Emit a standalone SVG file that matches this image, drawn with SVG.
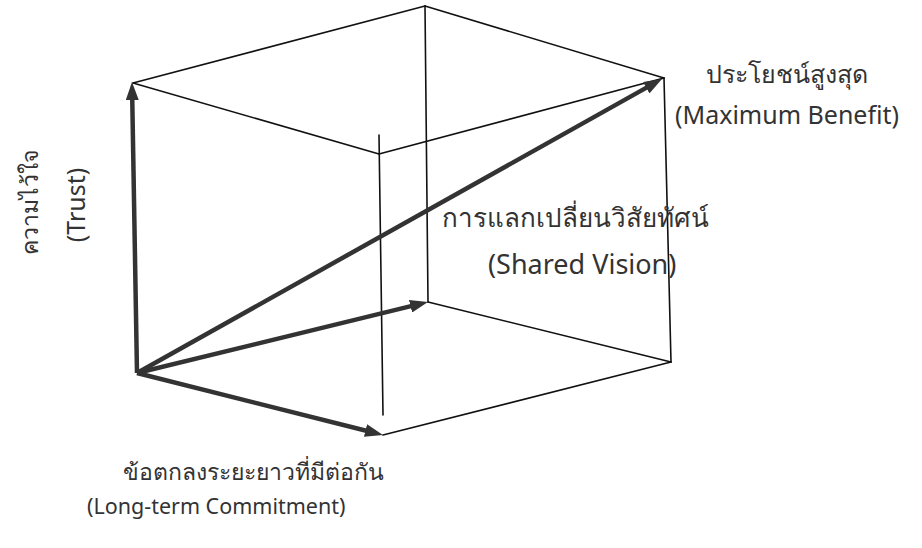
<svg xmlns="http://www.w3.org/2000/svg" width="922" height="548" viewBox="0 0 922 548">
<style>
.edge{stroke:#111;stroke-width:1.6;fill:none;stroke-linecap:round}
.arr{stroke:#333;stroke-width:4.5;fill:none}
.lbl{font-family:"Noto Sans",sans-serif;font-size:23px;fill:#333}
</style>
<defs>
<marker id="ah" markerUnits="userSpaceOnUse" markerWidth="18" markerHeight="13" refX="10" refY="6.5" orient="auto" viewBox="0 0 18 13">
<path d="M0,0 L18,6.5 L0,13 z" fill="#333"/>
</marker>
</defs>
<rect width="922" height="548" fill="#fff"/>
<g id="cube">
<line class="edge" x1="133" y1="83" x2="425" y2="6"/>
<line class="edge" x1="133" y1="83" x2="379" y2="154"/>
<line class="edge" x1="379" y1="154" x2="664" y2="78"/>
<line class="edge" x1="425" y1="6" x2="664" y2="78"/>
<line class="edge" x1="425" y1="6" x2="428" y2="302"/>
<line class="edge" x1="664" y1="78" x2="671" y2="362"/>
<line class="edge" x1="428" y1="302" x2="671" y2="362"/>
<line class="edge" x1="671" y1="362" x2="383" y2="435"/>
<line class="edge" x1="379" y1="135" x2="383" y2="415"/>
</g>
<g id="connectors">
<line class="arr" x1="137" y1="373" x2="132.1" y2="90" marker-end="url(#ah)"/>
<line class="arr" x1="137" y1="373" x2="375.2" y2="433" marker-end="url(#ah)"/>
<line class="arr" x1="137" y1="373" x2="420.2" y2="303.9" marker-end="url(#ah)"/>
<line class="arr" x1="137" y1="373" x2="655" y2="82.9" marker-end="url(#ah)"/>
</g>
<g id="trust">
<text class="lbl" transform="translate(38,202) rotate(-90)" text-anchor="middle">ความไว้ใจ</text>
<text class="lbl" style="font-size:25px" transform="translate(85,205) rotate(-90)" text-anchor="middle">(Trust)</text>
</g>
<g id="benefit">
<text class="lbl" style="font-size:25px" x="787" y="83" text-anchor="middle">ประโยชน์สูงสุด</text>
<text class="lbl" style="font-size:25px" x="787" y="124" text-anchor="middle">(Maximum Benefit)</text>
</g>
<g id="vision">
<text class="lbl" style="font-size:26px" x="442" y="227">การแลกเปลี่ยนวิสัยทัศน์</text>
<text class="lbl" style="font-size:27px" x="488" y="274">(Shared Vision)</text>
</g>
<g id="commitment">
<text class="lbl" x="123" y="480">ข้อตกลงระยะยาวที่มีต่อกัน</text>
<text class="lbl" style="font-size:21.5px" x="87" y="514">(Long-term Commitment)</text>
</g>
</svg>
